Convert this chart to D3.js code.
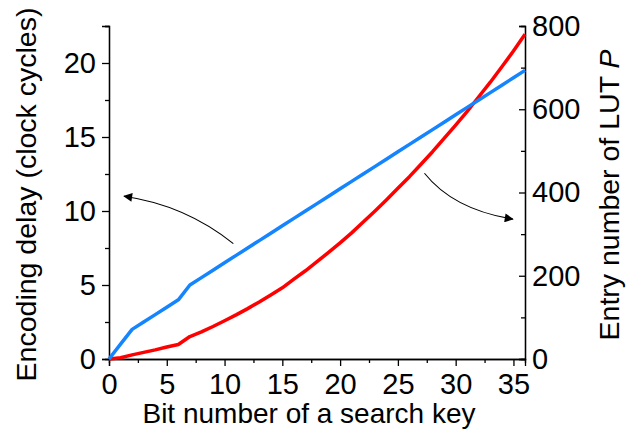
<!DOCTYPE html>
<html>
<head>
<meta charset="utf-8">
<script src="https://cdn.jsdelivr.net/npm/d3@7"></script>
<style>
  body { margin: 0; background: #fff; }
  svg { display: block; font-family: "Liberation Sans", Arial, sans-serif; }
</style>
</head>
<body>
<svg id="chart"></svg>
<script>
const width = 627
const height = 430
const margin = {top: 26, right: 102, bottom: 71, left: 109}

// bit number of a search key
const bits = [0, 1, 2, 3, 4, 5, 6, 7, 8, 9, 10, 11, 12, 13, 14, 15, 16, 17, 18,
  19, 20, 21, 22, 23, 24, 25, 26, 27, 28, 29, 30, 31, 32, 33, 34, 35, 36]
// encoding delay (clock cycles), left axis
const delay = [0, 1, 2, 2.5, 3, 3.5, 4, 5, 5.5, 6, 6.5, 7, 7.5, 8, 8.5, 9, 9.5, 10, 10.5,
  11, 11.5, 12, 12.5, 13, 13.5, 14, 14.5, 15, 15.5, 16, 16.5, 17, 17.5, 18, 18.5, 19, 19.5]
// entry number of LUT P, right axis
const entries = [0, 3, 10, 16, 22, 29, 35, 54, 65, 78, 92, 106, 121, 137, 154, 171, 192, 212, 234,
  256, 279, 303, 329, 355, 382, 410, 438, 468, 498, 530, 562, 595, 630, 665, 702, 740, 780]

const xTicks = [0, 5, 10, 15, 20, 25, 30, 35]
const xMinor = [2.5, 7.5, 12.5, 17.5, 22.5, 27.5, 32.5]
const yLeftTicks = [0, 5, 10, 15, 20]
const yLeftMinor = [2.5, 7.5, 12.5, 17.5, 22.5]
const yRightTicks = [0, 200, 400, 600, 800]
const yRightMinor = [100, 300, 500, 700]

// arrow annotations in data units: [start, control, end], as [bit, delay]
const arrowToDelay = [[10.76, 7.8], [6.6, 10.4], [1.3, 11.0]]
const arrowToEntries = [[27.3, 12.55], [29.8, 10.1], [34.95, 9.45]]

const blue = "rgb(20, 132, 255)"
const red = "rgb(255, 0, 0)"
const tickFont = 29

const x = d3.scaleLinear().domain([0, 36]).range([margin.left, width - margin.right])
const yL = d3.scaleLinear().domain([0, 22.5]).range([height - margin.bottom, margin.top])
const yR = d3.scaleLinear().domain([0, 800]).range([height - margin.bottom, margin.top])

const svg = d3.select("#chart")
    .attr("width", width)
    .attr("height", height)

const styleAxis = (g, size) => {
    g.selectAll(".domain").attr("stroke", "#000").attr("stroke-width", 1.3)
    g.selectAll(".tick line").attr("stroke", "#000").attr("stroke-width", 1.3)
    g.selectAll("text").attr("font-size", size).attr("fill", "#000")
        .attr("font-family", "Liberation Sans, Arial, sans-serif")
}

// minor ticks first, drawn as axes without labels
svg.append("g")
    .attr("transform", `translate(0, ${height - margin.bottom})`)
    .call(d3.axisBottom(x).tickValues(xMinor).tickSize(4).tickFormat(""))
    .call(g => styleAxis(g, 0))
svg.append("g")
    .attr("transform", `translate(${margin.left}, 0)`)
    .call(d3.axisLeft(yL).tickValues(yLeftMinor).tickSize(4).tickFormat(""))
    .call(g => styleAxis(g, 0))
svg.append("g")
    .attr("transform", `translate(${width - margin.right}, 0)`)
    .call(d3.axisRight(yR).tickValues(yRightMinor).tickSize(-4).tickFormat(""))
    .call(g => styleAxis(g, 0))

svg.append("g")
    .attr("id", "x-axis")
    .attr("transform", `translate(0, ${height - margin.bottom})`)
    .call(d3.axisBottom(x).tickValues(xTicks).tickSize(7).tickPadding(7))
    .call(g => styleAxis(g, tickFont))

svg.append("g")
    .attr("id", "y-axis-left")
    .attr("transform", `translate(${margin.left}, 0)`)
    .call(d3.axisLeft(yL).tickValues(yLeftTicks).tickSize(7).tickPadding(6))
    .call(g => styleAxis(g, tickFont))

svg.append("g")
    .attr("id", "y-axis-right")
    .attr("transform", `translate(${width - margin.right}, 0)`)
    .call(d3.axisRight(yR).tickValues(yRightTicks).tickSize(-6).tickPadding(7))
    .call(g => styleAxis(g, tickFont))

// series
const delayLine = d3.line()
    .x((d, i) => x(bits[i]))
    .y(d => yL(d))
const entryLine = d3.line()
    .x((d, i) => x(bits[i]))
    .y(d => yR(d))

svg.append("path")
    .datum(entries)
    .attr("d", entryLine)
    .attr("fill", "none")
    .attr("stroke", red)
    .attr("stroke-width", 3.5)
    .attr("stroke-linejoin", "round")

svg.append("path")
    .datum(delay)
    .attr("d", delayLine)
    .attr("fill", "none")
    .attr("stroke", blue)
    .attr("stroke-width", 3.5)
    .attr("stroke-linejoin", "round")

// arrows
svg.append("defs").append("marker")
    .attr("id", "head")
    .attr("viewBox", "0 0 10 10")
    .attr("refX", 9)
    .attr("refY", 5)
    .attr("markerWidth", 11)
    .attr("markerHeight", 9)
    .attr("markerUnits", "userSpaceOnUse")
    .attr("orient", "auto")
    .append("path")
        .attr("d", "M0,0 L10,5 L0,10 Z")
        .attr("fill", "#000")

const curve = pts => {
    const p = pts.map(d => [x(d[0]), yL(d[1])])
    return `M${p[0][0]},${p[0][1]} Q${p[1][0]},${p[1][1]} ${p[2][0]},${p[2][1]}`
}

;[arrowToDelay, arrowToEntries].forEach(pts => {
    svg.append("path")
        .attr("d", curve(pts))
        .attr("fill", "none")
        .attr("stroke", "#000")
        .attr("stroke-width", 1.1)
        .attr("marker-end", "url(#head)")
})

// axis titles
svg.append("text")
    .attr("transform", `translate(36, ${(margin.top + height - margin.bottom) / 2 + 2}) rotate(-90)`)
    .attr("text-anchor", "middle")
    .attr("font-size", 28.5)
    .text("Encoding delay (clock cycles)")

const rightTitle = svg.append("text")
    .attr("transform", `translate(619, 195) rotate(-90)`)
    .attr("text-anchor", "middle")
    .attr("font-size", 28.5)
rightTitle.append("tspan").text("Entry number of LUT ")
rightTitle.append("tspan").attr("font-style", "italic").text("P")

svg.append("text")
    .attr("x", (margin.left + width - margin.right) / 2 - 8)
    .attr("y", 423)
    .attr("text-anchor", "middle")
    .attr("font-size", 28)
    .text("Bit number of a search key")
</script>
</body>
</html>
